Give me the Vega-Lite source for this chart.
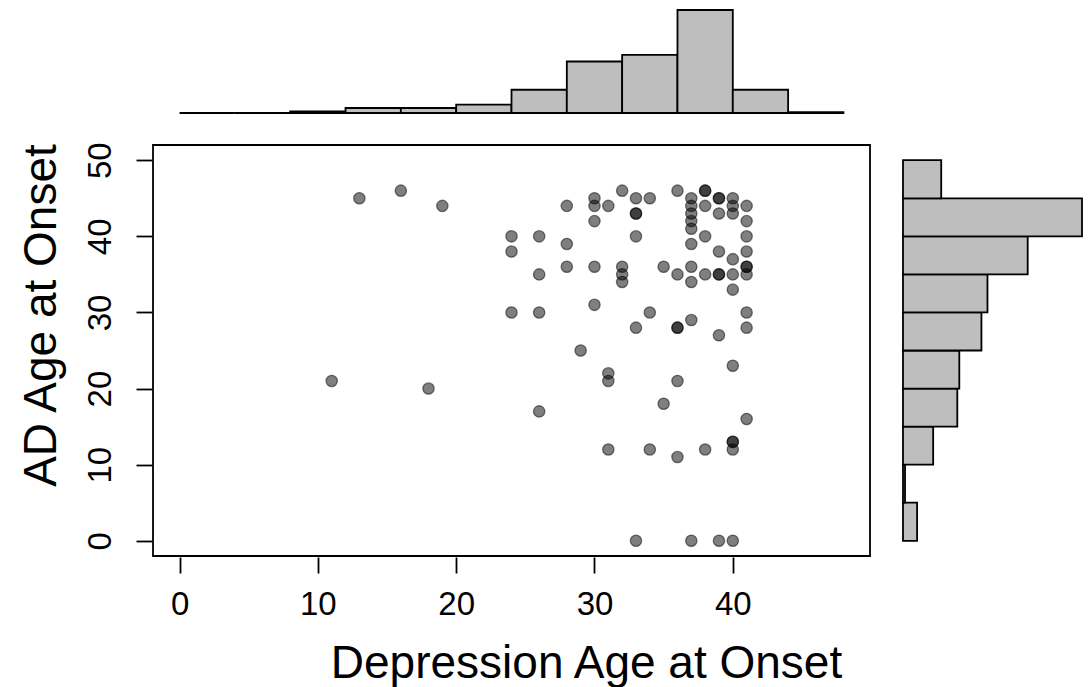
{
  "$schema": "https://vega.github.io/schema/vega-lite/v6.json",
  "autosize": "none",
  "padding": {"left": 153, "top": 10, "right": 936, "bottom": 677},
  "background": "white",
  "config": {
    "font": "Liberation Sans",
    "view": {"stroke": null},
    "axis": {"labelColor": "black", "titleColor": "black", "titleFontWeight": "normal", "labelFont": "Liberation Sans", "titleFont": "Liberation Sans"}
  },
  "datasets": {
    "points": [
      {"dep_onset": 11, "ad_onset": 21}, {"dep_onset": 13, "ad_onset": 45}, {"dep_onset": 16, "ad_onset": 46},
      {"dep_onset": 18, "ad_onset": 20}, {"dep_onset": 19, "ad_onset": 44},
      {"dep_onset": 24, "ad_onset": 40}, {"dep_onset": 24, "ad_onset": 38}, {"dep_onset": 24, "ad_onset": 30},
      {"dep_onset": 26, "ad_onset": 40}, {"dep_onset": 26, "ad_onset": 35}, {"dep_onset": 26, "ad_onset": 30}, {"dep_onset": 26, "ad_onset": 17},
      {"dep_onset": 28, "ad_onset": 44}, {"dep_onset": 28, "ad_onset": 39}, {"dep_onset": 28, "ad_onset": 36},
      {"dep_onset": 29, "ad_onset": 25},
      {"dep_onset": 30, "ad_onset": 45}, {"dep_onset": 30, "ad_onset": 44}, {"dep_onset": 30, "ad_onset": 42}, {"dep_onset": 30, "ad_onset": 36}, {"dep_onset": 30, "ad_onset": 31},
      {"dep_onset": 31, "ad_onset": 44}, {"dep_onset": 31, "ad_onset": 22}, {"dep_onset": 31, "ad_onset": 21}, {"dep_onset": 31, "ad_onset": 12},
      {"dep_onset": 32, "ad_onset": 46}, {"dep_onset": 32, "ad_onset": 36}, {"dep_onset": 32, "ad_onset": 35}, {"dep_onset": 32, "ad_onset": 34},
      {"dep_onset": 33, "ad_onset": 45}, {"dep_onset": 33, "ad_onset": 43}, {"dep_onset": 33, "ad_onset": 43}, {"dep_onset": 33, "ad_onset": 40}, {"dep_onset": 33, "ad_onset": 28}, {"dep_onset": 33, "ad_onset": 0},
      {"dep_onset": 34, "ad_onset": 45}, {"dep_onset": 34, "ad_onset": 30}, {"dep_onset": 34, "ad_onset": 12},
      {"dep_onset": 35, "ad_onset": 36}, {"dep_onset": 35, "ad_onset": 18},
      {"dep_onset": 36, "ad_onset": 46}, {"dep_onset": 36, "ad_onset": 35}, {"dep_onset": 36, "ad_onset": 28}, {"dep_onset": 36, "ad_onset": 28}, {"dep_onset": 36, "ad_onset": 21}, {"dep_onset": 36, "ad_onset": 11},
      {"dep_onset": 37, "ad_onset": 45}, {"dep_onset": 37, "ad_onset": 44}, {"dep_onset": 37, "ad_onset": 43}, {"dep_onset": 37, "ad_onset": 42}, {"dep_onset": 37, "ad_onset": 41},
      {"dep_onset": 37, "ad_onset": 39}, {"dep_onset": 37, "ad_onset": 36}, {"dep_onset": 37, "ad_onset": 34}, {"dep_onset": 37, "ad_onset": 29}, {"dep_onset": 37, "ad_onset": 0},
      {"dep_onset": 38, "ad_onset": 46}, {"dep_onset": 38, "ad_onset": 46}, {"dep_onset": 38, "ad_onset": 44}, {"dep_onset": 38, "ad_onset": 40}, {"dep_onset": 38, "ad_onset": 35}, {"dep_onset": 38, "ad_onset": 12},
      {"dep_onset": 39, "ad_onset": 45}, {"dep_onset": 39, "ad_onset": 45}, {"dep_onset": 39, "ad_onset": 43}, {"dep_onset": 39, "ad_onset": 38}, {"dep_onset": 39, "ad_onset": 35}, {"dep_onset": 39, "ad_onset": 35}, {"dep_onset": 39, "ad_onset": 27}, {"dep_onset": 39, "ad_onset": 0},
      {"dep_onset": 40, "ad_onset": 45}, {"dep_onset": 40, "ad_onset": 44}, {"dep_onset": 40, "ad_onset": 43}, {"dep_onset": 40, "ad_onset": 37}, {"dep_onset": 40, "ad_onset": 35}, {"dep_onset": 40, "ad_onset": 33},
      {"dep_onset": 40, "ad_onset": 23}, {"dep_onset": 40, "ad_onset": 13}, {"dep_onset": 40, "ad_onset": 13}, {"dep_onset": 40, "ad_onset": 12}, {"dep_onset": 40, "ad_onset": 0},
      {"dep_onset": 41, "ad_onset": 44}, {"dep_onset": 41, "ad_onset": 42}, {"dep_onset": 41, "ad_onset": 40}, {"dep_onset": 41, "ad_onset": 38}, {"dep_onset": 41, "ad_onset": 36}, {"dep_onset": 41, "ad_onset": 36},
      {"dep_onset": 41, "ad_onset": 35}, {"dep_onset": 41, "ad_onset": 30}, {"dep_onset": 41, "ad_onset": 28}, {"dep_onset": 41, "ad_onset": 16}
    ],
    "xhist": [
      {"bin_start": 0, "bin_end": 4, "count": 0}, {"bin_start": 4, "bin_end": 8, "count": 0},
      {"bin_start": 8, "bin_end": 12, "count": 1}, {"bin_start": 12, "bin_end": 16, "count": 3},
      {"bin_start": 16, "bin_end": 20, "count": 3}, {"bin_start": 20, "bin_end": 24, "count": 5},
      {"bin_start": 24, "bin_end": 28, "count": 14}, {"bin_start": 28, "bin_end": 32, "count": 31},
      {"bin_start": 32, "bin_end": 36, "count": 35}, {"bin_start": 36, "bin_end": 40, "count": 62},
      {"bin_start": 40, "bin_end": 44, "count": 14}, {"bin_start": 44, "bin_end": 48, "count": 0.5}
    ],
    "yhist": [
      {"bin_start": 0, "bin_end": 5, "count": 7}, {"bin_start": 5, "bin_end": 10, "count": 1},
      {"bin_start": 10, "bin_end": 15, "count": 15}, {"bin_start": 15, "bin_end": 20, "count": 27},
      {"bin_start": 20, "bin_end": 25, "count": 28}, {"bin_start": 25, "bin_end": 30, "count": 39},
      {"bin_start": 30, "bin_end": 35, "count": 42}, {"bin_start": 35, "bin_end": 40, "count": 62},
      {"bin_start": 40, "bin_end": 45, "count": 89}, {"bin_start": 45, "bin_end": 50, "count": 19}
    ],
    "empty": []
  },
  "columns": 2,
  "bounds": "flush",
  "align": "each",
  "spacing": {"row": 32, "column": 33},
  "concat": [
    {
      "width": 717,
      "height": 103,
      "data": {"name": "xhist"},
      "mark": {"type": "bar", "fill": "#bebebe", "stroke": "black", "strokeWidth": 1.8, "clip": false},
      "encoding": {
        "x": {"field": "bin_start", "type": "quantitative", "scale": {"domain": [-1.92, 49.92], "nice": false, "zero": false}, "axis": null},
        "x2": {"field": "bin_end"},
        "y": {"field": "count", "type": "quantitative", "scale": {"domain": [0, 62], "nice": false}, "axis": null},
        "y2": {"datum": 0}
      }
    },
    {
      "width": 1,
      "height": 1,
      "data": {"name": "empty"},
      "mark": {"type": "point"},
      "encoding": {}
    },
    {
      "width": 717,
      "height": 411,
      "view": {"stroke": "black", "strokeWidth": 1.8},
      "data": {"name": "points"},
      "mark": {"type": "point", "filled": true, "fill": "black", "fillOpacity": 0.5, "stroke": "black", "strokeOpacity": 0.5, "strokeWidth": 1.3, "opacity": 1, "size": 128},
      "encoding": {
        "x": {
          "field": "dep_onset", "type": "quantitative", "title": "Depression Age at Onset",
          "scale": {"domain": [-1.92, 49.92], "nice": false, "zero": false},
          "axis": {
            "values": [0, 10, 20, 30, 40], "domain": false, "grid": false,
            "tickSize": 16, "tickWidth": 1.8, "tickColor": "black", "offset": 1,
            "labelFontSize": 33, "labelBaseline": "alphabetic", "labelPadding": 41, "labelFlush": false, "labelOverlap": false,
            "titleFontSize": 46, "titleX": 433, "titleY": 120, "titleAlign": "center", "titleBaseline": "alphabetic"
          }
        },
        "y": {
          "field": "ad_onset", "type": "quantitative", "title": "AD Age at Onset",
          "scale": {"domain": [-2, 52], "nice": false, "zero": false},
          "axis": {
            "values": [0, 10, 20, 30, 40, 50], "domain": false, "grid": false,
            "tickSize": 16, "tickWidth": 1.8, "tickColor": "black", "offset": 1,
            "labelFontSize": 33, "labelAngle": 270, "labelAlign": "center", "labelBaseline": "alphabetic", "labelPadding": 26, "labelFlush": false, "labelOverlap": false,
            "titleFontSize": 46, "titleAngle": 270, "titleAlign": "center", "titleBaseline": "alphabetic", "titleX": -97, "titleY": 170
          }
        }
      }
    },
    {
      "width": 179,
      "height": 411,
      "data": {"name": "yhist"},
      "mark": {"type": "bar", "fill": "#bebebe", "stroke": "black", "strokeWidth": 1.8, "clip": false},
      "encoding": {
        "y": {"field": "bin_start", "type": "quantitative", "scale": {"domain": [-2, 52], "nice": false, "zero": false}, "axis": null},
        "y2": {"field": "bin_end"},
        "x": {"field": "count", "type": "quantitative", "scale": {"domain": [0, 89], "nice": false}, "axis": null},
        "x2": {"datum": 0}
      }
    }
  ]
}
